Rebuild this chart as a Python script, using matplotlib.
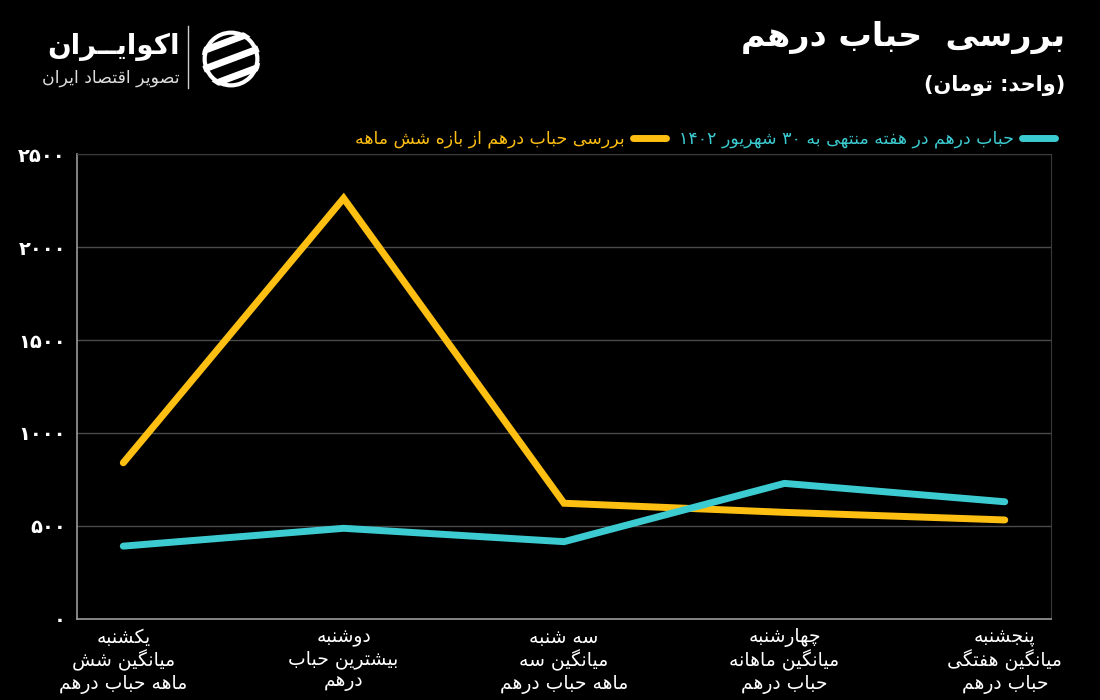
import matplotlib
matplotlib.use("Agg")
import matplotlib.pyplot as plt
from matplotlib.patches import Circle
from matplotlib.ticker import FuncFormatter

# ---- data ----
categories = [
    "یکشنبه\nمیانگین شش\nماهه حباب درهم",
    "دوشنبه\nبیشترین حباب\nدرهم",
    "سه شنبه\nمیانگین سه\nماهه حباب درهم",
    "چهارشنبه\nمیانگین ماهانه\nحباب درهم",
    "پنجشنبه\nمیانگین هفتگی\nحباب درهم",
]
week_bubble = [390, 486, 414, 728, 629]
six_month_bubble = [839, 2264, 621, 572, 531]
week_label = "حباب درهم در هفته منتهی به ۳۰ شهریور ۱۴۰۲"
six_month_label = "بررسی حباب درهم از بازه شش ماهه"
y_ticks = [0, 500, 1000, 1500, 2000, 2500]

TITLE = "بررسی  حباب درهم"
SUBTITLE = "(واحد: تومان)"
BRAND = "اکوایــران"
BRAND_SUB = "تصویر اقتصاد ایران"

YELLOW = "#FDBF12"
CYAN = "#3CCBD0"

# ---- tiny Persian shaper (matplotlib has no Arabic shaping / bidi) ----
FORMS = {
    "\u0627": ("\uFE8D", "\uFE8E", None, None),
    "\u0622": ("\uFE81", "\uFE82", None, None),
    "\u0628": ("\uFE8F", "\uFE90", "\uFE91", "\uFE92"),
    "\u067E": ("\uFB56", "\uFB57", "\uFB58", "\uFB59"),
    "\u062A": ("\uFE95", "\uFE96", "\uFE97", "\uFE98"),
    "\u062B": ("\uFE99", "\uFE9A", "\uFE9B", "\uFE9C"),
    "\u062C": ("\uFE9D", "\uFE9E", "\uFE9F", "\uFEA0"),
    "\u0686": ("\uFB7A", "\uFB7B", "\uFB7C", "\uFB7D"),
    "\u062D": ("\uFEA1", "\uFEA2", "\uFEA3", "\uFEA4"),
    "\u062E": ("\uFEA5", "\uFEA6", "\uFEA7", "\uFEA8"),
    "\u062F": ("\uFEA9", "\uFEAA", None, None),
    "\u0630": ("\uFEAB", "\uFEAC", None, None),
    "\u0631": ("\uFEAD", "\uFEAE", None, None),
    "\u0632": ("\uFEAF", "\uFEB0", None, None),
    "\u0698": ("\uFB8A", "\uFB8B", None, None),
    "\u0633": ("\uFEB1", "\uFEB2", "\uFEB3", "\uFEB4"),
    "\u0634": ("\uFEB5", "\uFEB6", "\uFEB7", "\uFEB8"),
    "\u0635": ("\uFEB9", "\uFEBA", "\uFEBB", "\uFEBC"),
    "\u0636": ("\uFEBD", "\uFEBE", "\uFEBF", "\uFEC0"),
    "\u0637": ("\uFEC1", "\uFEC2", "\uFEC3", "\uFEC4"),
    "\u0638": ("\uFEC5", "\uFEC6", "\uFEC7", "\uFEC8"),
    "\u0639": ("\uFEC9", "\uFECA", "\uFECB", "\uFECC"),
    "\u063A": ("\uFECD", "\uFECE", "\uFECF", "\uFED0"),
    "\u0641": ("\uFED1", "\uFED2", "\uFED3", "\uFED4"),
    "\u0642": ("\uFED5", "\uFED6", "\uFED7", "\uFED8"),
    "\u06A9": ("\uFB8E", "\uFB8F", "\uFB90", "\uFB91"),
    "\u06AF": ("\uFB92", "\uFB93", "\uFB94", "\uFB95"),
    "\u0644": ("\uFEDD", "\uFEDE", "\uFEDF", "\uFEE0"),
    "\u0645": ("\uFEE1", "\uFEE2", "\uFEE3", "\uFEE4"),
    "\u0646": ("\uFEE5", "\uFEE6", "\uFEE7", "\uFEE8"),
    "\u0648": ("\uFEED", "\uFEEE", None, None),
    "\u0647": ("\uFEE9", "\uFEEA", "\uFEEB", "\uFEEC"),
    "\u06CC": ("\uFBFC", "\uFBFD", "\uFBFE", "\uFBFF"),
    "\u0640": ("\u0640", "\u0640", "\u0640", "\u0640"),
}
DIGITS = set("0123456789\u06F0\u06F1\u06F2\u06F3\u06F4\u06F5\u06F6\u06F7\u06F8\u06F9")
MIRROR = {"(": ")", ")": "("}


def shape_line(s):
    out = []
    for i, c in enumerate(s):
        if c not in FORMS:
            out.append(c)
            continue
        prev = s[i - 1] if i > 0 else None
        nxt = s[i + 1] if i + 1 < len(s) else None
        iso, fin, ini, med = FORMS[c]
        jp = prev in FORMS and FORMS[prev][2] is not None
        jn = nxt in FORMS and ini is not None
        if jp and jn:
            out.append(med)
        elif jp:
            out.append(fin)
        elif jn:
            out.append(ini)
        else:
            out.append(iso)
    # visual order: reverse, keeping digit runs left-to-right
    runs, cur, cur_digit = [], "", None
    for ch in out:
        d = ch in DIGITS
        if cur and d != cur_digit:
            runs.append((cur, cur_digit))
            cur = ""
        cur += ch
        cur_digit = d
    if cur:
        runs.append((cur, cur_digit))
    vis = ""
    for txt, is_digit in reversed(runs):
        if is_digit:
            vis += txt
        else:
            vis += "".join(MIRROR.get(ch, ch) for ch in reversed(txt))
    return vis


def fa(s):
    return "\n".join(shape_line(line) for line in s.split("\n"))


def fa_num(v, _pos=None):
    return str(int(v)).translate(str.maketrans("0123456789", "۰۱۲۳۴۵۶۷۸۹"))


plt.rcParams["font.family"] = ["DejaVu Sans"]

fig = plt.figure(figsize=(11, 7), dpi=100, facecolor="black")
ax = fig.add_axes([0.07, 0.1164, 0.8855, 0.6629], facecolor="black")

x = list(range(len(categories)))
ax.plot(x, six_month_bubble, color=YELLOW, lw=5, solid_capstyle="round",
        solid_joinstyle="miter", label=fa(six_month_label))
ax.plot(x, week_bubble, color=CYAN, lw=5, solid_capstyle="round",
        solid_joinstyle="miter", label=fa(week_label))

ax.set_xlim(-0.21, len(categories) - 1 + 0.21)
ax.set_ylim(0, 2500)
ax.set_yticks(y_ticks)
ax.yaxis.set_major_formatter(FuncFormatter(fa_num))
ax.set_xticks(x)
ax.set_xticklabels([fa(c) for c in categories], color="white", fontsize=13.5,
                   linespacing=1.15)
ax.tick_params(axis="y", colors="white", labelsize=14, length=0, pad=8)
ax.tick_params(axis="x", length=0, pad=7)
for lbl in ax.get_yticklabels():
    lbl.set_fontweight("bold")

ax.grid(axis="y", color="#4a4a4a", lw=1)
ax.set_axisbelow(True)
for side in ["top", "right"]:
    ax.spines[side].set_color("#3a3a3a")
for side in ["left", "bottom"]:
    ax.spines[side].set_color("#9a9a9a")
    ax.spines[side].set_linewidth(1.2)

leg = fig.legend(handles=ax.get_lines(), loc="upper right",
                 bbox_to_anchor=(1062 / 1100, 1 - 123 / 700), ncol=2,
                 frameon=False, markerfirst=False, handlelength=1.9,
                 handletextpad=0.5, columnspacing=0.7, fontsize=12.5,
                 labelcolor="linecolor", borderaxespad=0)

# titles
fig.text(1065 / 1100, 1 - 37 / 700, fa(TITLE), color="white", fontsize=24,
         fontweight="bold", ha="right", va="center")
fig.text(1065 / 1100, 1 - 85 / 700, fa(SUBTITLE), color="white", fontsize=15,
         fontweight="bold", ha="right", va="center")

# brand block
fig.text(180 / 1100, 1 - 47 / 700, fa(BRAND), color="white", fontsize=20,
         fontweight="bold", ha="right", va="center")
fig.text(180 / 1100, 1 - 78 / 700, fa(BRAND_SUB), color="#dddddd", fontsize=12.5,
         ha="right", va="center")
fig.add_artist(plt.Line2D([188 / 1100, 188 / 1100], [1 - 26 / 700, 1 - 88 / 700],
                          color="#cccccc", lw=1, transform=fig.transFigure))
logo = fig.add_axes([200 / 1100, 1 - 90 / 700, 62 / 1100, 62 / 700])
logo.set_xlim(-1, 1)
logo.set_ylim(-1, 1)
logo.set_aspect("equal")
logo.axis("off")
clip = Circle((0, 0), 0.95, transform=logo.transData)
logo.add_patch(Circle((0, 0), 0.85, fill=False, ec="white", lw=3))
for off in (-0.6, 0.0, 0.6):
    ln, = logo.plot([-1.2, 1.2], [off - 0.45, off + 0.45], color="white", lw=5,
                    solid_capstyle="butt")
    ln.set_clip_path(clip)

fig.savefig("out.png", dpi=100, facecolor="black")
